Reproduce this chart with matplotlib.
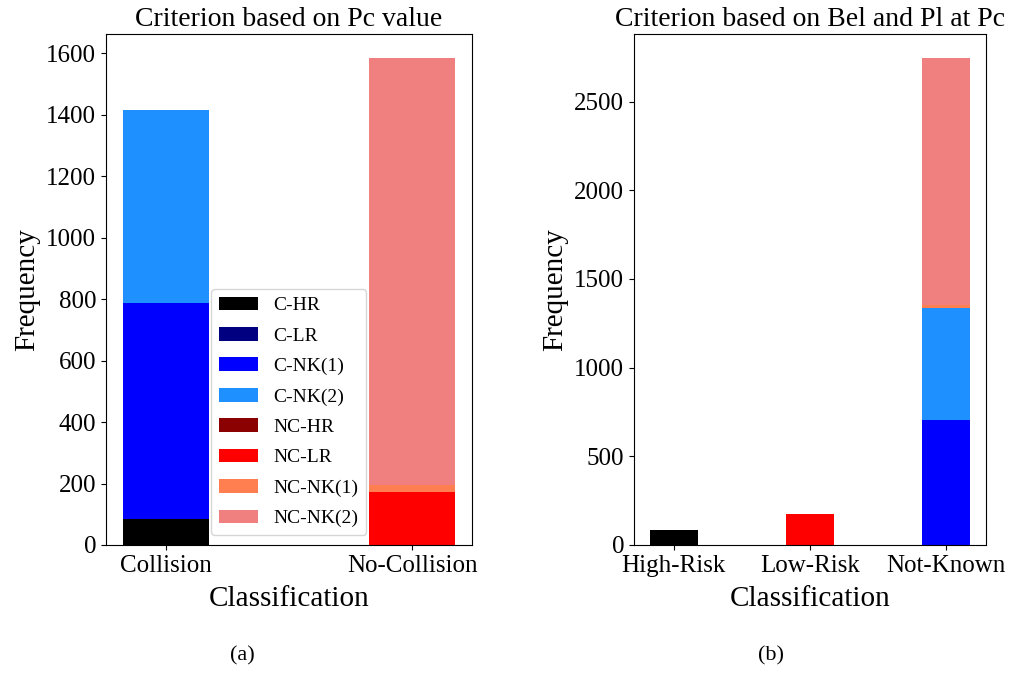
import matplotlib
matplotlib.use("Agg")
import matplotlib.pyplot as plt

plt.rcParams['font.family'] = ['Liberation Serif', 'DejaVu Serif']

# counts per class (collision / no-collision) and risk sub-class
labels = ["C-HR", "C-LR", "C-NK(1)", "C-NK(2)", "NC-HR", "NC-LR", "NC-NK(1)", "NC-NK(2)"]
colors = ["black", "navy", "blue", "dodgerblue", "darkred", "red", "coral", "lightcoral"]

c_hr, c_lr, c_nk1, c_nk2 = 83, 0, 704, 630
nc_hr, nc_lr, nc_nk1, nc_nk2 = 0, 174, 20, 1390

pc_cats = ["Collision", "No-Collision"]
bel_cats = ["High-Risk", "Low-Risk", "Not-Known"]

fig = plt.figure(figsize=(10.11, 6.75), dpi=100)
ax1 = fig.add_axes([0.1048, 0.1926, 0.362, 0.757])
ax2 = fig.add_axes([0.627, 0.1926, 0.348, 0.757])

w = 0.35

# (a) Collision bar uses C-* entries, No-Collision bar uses NC-* entries
bottom = 0
for vals, lab, col in zip([c_hr, c_lr, c_nk1, c_nk2], labels[:4], colors[:4]):
    ax1.bar(pc_cats[0], vals, w, bottom=bottom, color=col, label=lab)
    bottom += vals
bottom = 0
for vals, lab, col in zip([nc_hr, nc_lr, nc_nk1, nc_nk2], labels[4:], colors[4:]):
    ax1.bar(pc_cats[1], vals, w, bottom=bottom, color=col, label=lab)
    bottom += vals

ax1.set_title("Criterion based on Pc value", fontsize=20)
ax1.set_xlabel("Classification", fontsize=21, labelpad=7)
ax1.set_ylabel("Frequency", fontsize=21)
ax1.tick_params(labelsize=18)
ax1.legend(loc="lower center", fontsize=14, labelspacing=0.66)

# (b) stacked by Bel/Pl criterion
groups = [
    [(c_hr, colors[0]), (nc_hr, colors[4])],
    [(c_lr, colors[1]), (nc_lr, colors[5])],
    [(c_nk1, colors[2]), (c_nk2, colors[3]), (nc_nk1, colors[6]), (nc_nk2, colors[7])],
]
for cat, parts in zip(bel_cats, groups):
    bottom = 0
    for v, col in parts:
        ax2.bar(cat, v, w, bottom=bottom, color=col)
        bottom += v

ax2.set_title("Criterion based on Bel and Pl at Pc", fontsize=20)
ax2.set_xlabel("Classification", fontsize=21, labelpad=7)
ax2.set_ylabel("Frequency", fontsize=21)
ax2.tick_params(labelsize=18)

fig.text(0.240, 0.022, "(a)", fontsize=16, ha="center")
fig.text(0.763, 0.022, "(b)", fontsize=16, ha="center")

fig.savefig("out.png", dpi=100)
